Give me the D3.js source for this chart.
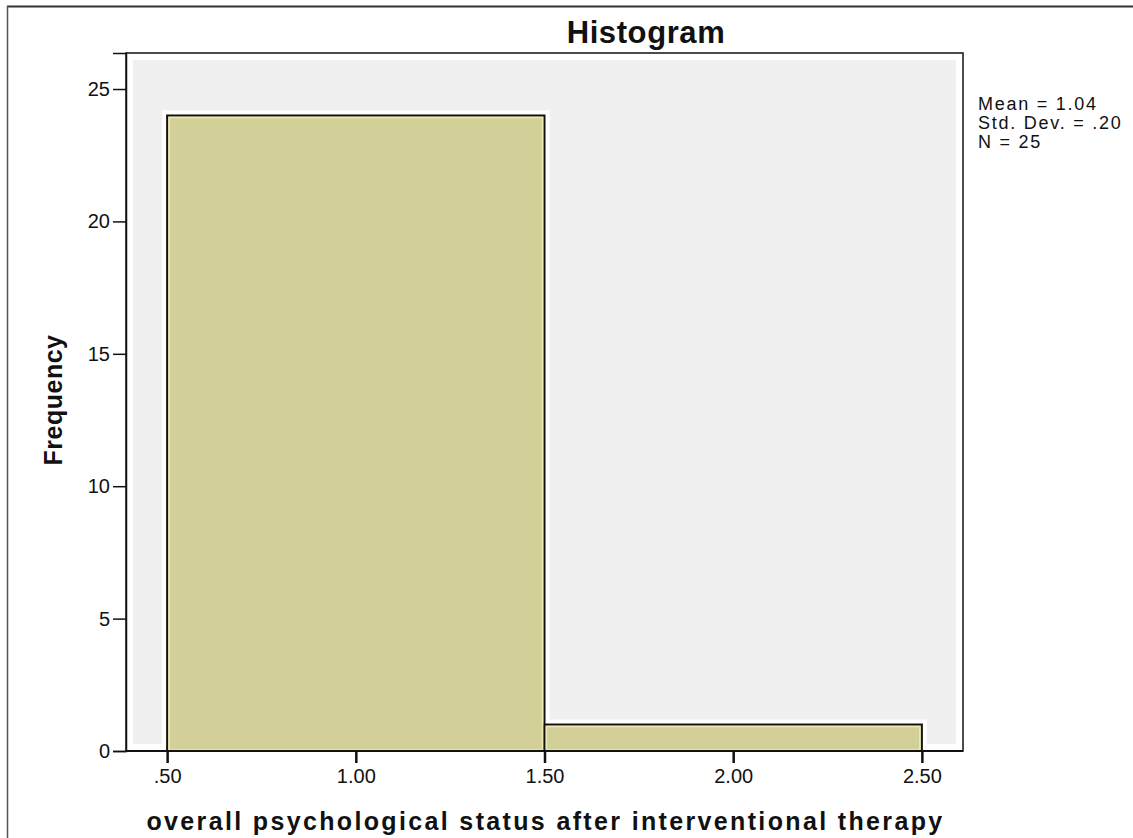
<!DOCTYPE html>
<html><head><meta charset="utf-8">
<script src="https://cdn.jsdelivr.net/npm/d3@7"></script>
<style>body{margin:0;background:#fff}</style>
</head><body>
<svg id="c" width="1133" height="838"></svg>
<script>
const binStarts = [0.5, 1.5];
const binEnds = [1.5, 2.5];
const frequencies = [24, 1];
const xTicks = [0.5, 1.0, 1.5, 2.0, 2.5];
const xTickLabels = [".50", "1.00", "1.50", "2.00", "2.50"];
const yTicks = [0, 5, 10, 15, 20, 25];
const statsLines = ["Mean = 1.04", "Std. Dev. = .20", "N = 25"];
const titleText = "Histogram";
const xLabel = "overall psychological status after interventional therapy";
const yLabel = "Frequency";

const FONT = "Arial, 'Liberation Sans', sans-serif";
const svg = d3.select("#c");
const L = 126, R = 963, T = 53, B = 751;
const x = d3.scaleLinear().domain([0.391, 2.609]).range([L, R]);
const y = d3.scaleLinear().domain([0, 26.36]).range([B, T]);

// outer frame (top and left visible)
svg.append("line").attr("x1",7).attr("x2",1133).attr("y1",6.5).attr("y2",6.5).attr("stroke","#333").attr("stroke-width",2);
svg.append("line").attr("x1",7.5).attr("x2",7.5).attr("y1",6).attr("y2",838).attr("stroke","#555").attr("stroke-width",1.5);

// plot background
svg.append("rect").attr("x",L).attr("y",T).attr("width",R-L).attr("height",B-T).attr("fill","#fff");
svg.append("rect").attr("x",L+7).attr("y",T+7).attr("width",R-L-14).attr("height",B-T-14).attr("fill","#f0f0f0");

const data = binStarts.map((s,i)=>({s, e: binEnds[i], f: frequencies[i]}));
svg.selectAll("rect.halo").data(data).enter().append("rect")
  .attr("x", d=>x(d.s)-5).attr("y", d=>y(d.f)-5)
  .attr("width", d=>x(d.e)-x(d.s)+10).attr("height", d=>B-y(d.f)+5)
  .attr("fill","#fff");
svg.selectAll("rect.bar").data(data).enter().append("rect")
  .attr("x", d=>x(d.s)).attr("y", d=>y(d.f))
  .attr("width", d=>x(d.e)-x(d.s)).attr("height", d=>B-y(d.f))
  .attr("fill","#d3cf98").attr("stroke","#111").attr("stroke-width",2);
svg.selectAll("rect.inner").data(data).enter().append("rect")
  .attr("x", d=>x(d.s)+2).attr("y", d=>y(d.f)+2)
  .attr("width", d=>x(d.e)-x(d.s)-4).attr("height", d=>B-y(d.f)-3)
  .attr("fill","none").attr("stroke","#eeeab0").attr("stroke-width",1.5);

// plot frame
svg.append("rect").attr("x",L).attr("y",T).attr("width",R-L).attr("height",B-T)
  .attr("fill","none").attr("stroke","#111").attr("stroke-width",1.5);

// axes
const yAxis = d3.axisLeft(y).tickValues(yTicks).tickSize(13).tickPadding(3).tickFormat(d3.format("d"));
const gy = svg.append("g").attr("transform",`translate(${L},0)`).call(yAxis);
gy.attr("font-size",null).attr("font-family",null);
gy.select(".domain").attr("stroke","#111").attr("stroke-width",1.5);
gy.selectAll(".tick line").attr("stroke","#111").attr("stroke-width",1.5);
gy.selectAll(".tick text").style("font-family",FONT).style("font-size","20px").attr("fill","#111");

const xAxis = d3.axisBottom(x).tickValues(xTicks).tickSize(12).tickPadding(6).tickFormat((d,i)=>xTickLabels[i]);
const gx = svg.append("g").attr("transform",`translate(0,${B})`).call(xAxis);
gx.attr("font-size",null).attr("font-family",null);
gx.select(".domain").remove();
gx.selectAll(".tick line").attr("stroke","#111").attr("stroke-width",2.5);
gx.selectAll(".tick text").style("font-family",FONT).style("font-size","20px").attr("fill","#111");
svg.append("line").attr("x1",L).attr("x2",R).attr("y1",B).attr("y2",B).attr("stroke","#111").attr("stroke-width",2);

// title
svg.append("text").attr("x",646).attr("y",43).attr("text-anchor","middle")
  .style("font-family",FONT).style("font-weight","bold").style("font-size","31px").attr("letter-spacing","0.6px").attr("fill","#111").text(titleText);

// axis labels
svg.append("text").attr("x",(L+R)/2 + 1).attr("y",830).attr("text-anchor","middle")
  .style("font-family",FONT).style("font-weight","bold").style("font-size","25px")
  .attr("letter-spacing","2.35px").attr("fill","#111").text(xLabel);
svg.append("text").attr("transform","translate(62,400) rotate(-90)").attr("text-anchor","middle")
  .style("font-family",FONT).style("font-weight","bold").style("font-size","25px").attr("letter-spacing","0.5px").attr("fill","#111").text(yLabel);

// stats
svg.selectAll("text.stat").data(statsLines).enter().append("text")
  .attr("x",978).attr("y",(d,i)=>110+i*19)
  .style("font-family",FONT).style("font-size","18px").attr("letter-spacing","1.75px").attr("fill","#111").text(d=>d);
</script>
</body></html>
